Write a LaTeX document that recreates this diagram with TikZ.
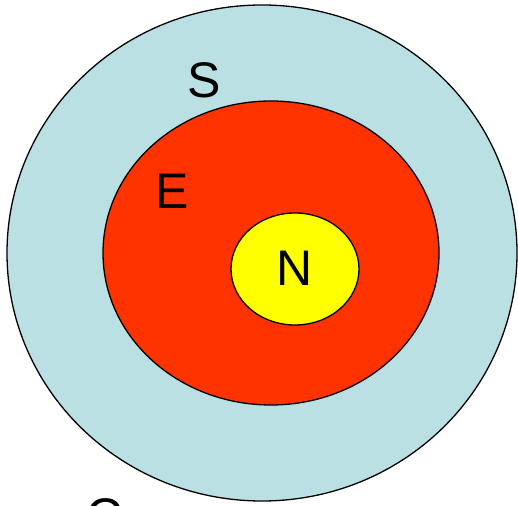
\documentclass[tikz,border=0pt]{standalone}
\usepackage{fontspec}
\setmainfont{Liberation Sans}
\usetikzlibrary{shapes.geometric}
\definecolor{skyc}{RGB}{186,224,227}
\definecolor{redc}{RGB}{255,51,0}
\definecolor{yelc}{RGB}{255,255,0}
\begin{document}
\begin{tikzpicture}[x=1pt,y=1pt,
  ring/.style={draw=black,line width=1.3pt},
  lab/.style={font=\fontsize{50}{56}\selectfont,anchor=base,inner sep=0pt}]
\clip (0,0) rectangle (518,505);
\fill[white] (0,0) rectangle (518,505);
\draw[ring,fill=skyc] (262,252) ellipse [x radius=255,y radius=248];
\draw[ring,fill=redc] (271,252) ellipse [x radius=168,y radius=152];
\draw[ring,fill=yelc] (295,236) ellipse [x radius=64,y radius=56];
\node[lab] (s) at (204,407) {S};
\node[lab] (e) at (172,296) {E};
\node[lab] (n) at (295,219) {N};
\node[lab] (c) at (105,-28) {C};
\end{tikzpicture}
\end{document}
